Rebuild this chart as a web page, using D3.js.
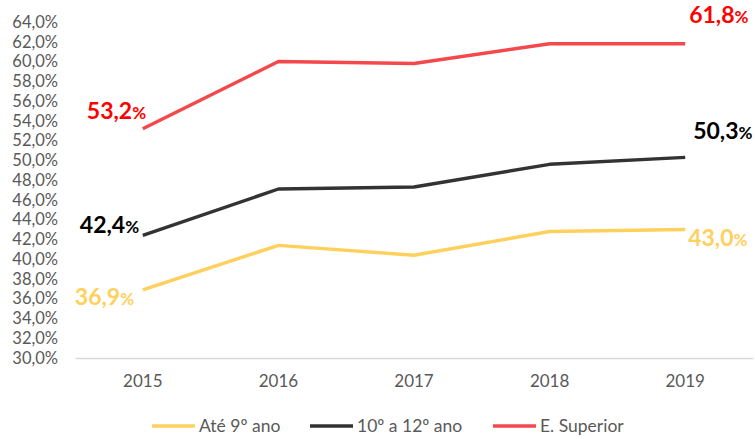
<!DOCTYPE html>
<html>
<head>
<meta charset="utf-8">
<script src="https://cdn.jsdelivr.net/npm/d3@7"></script>
<style>
  body { margin: 0; background: #fff; }
  text { font-family: Lato, "Open Sans", sans-serif; }
</style>
</head>
<body>
<svg width="755" height="439"></svg>
<script>
// chart data
var years = ["2015", "2016", "2017", "2018", "2019"];
var ate9 = [36.9, 41.4, 40.4, 42.8, 43.0];
var ano10a12 = [42.4, 47.1, 47.3, 49.6, 50.3];
var superior = [53.2, 60.0, 59.8, 61.8, 61.8];
var seriesNames = ["Até 9º ano", "10º a 12º ano", "E. Superior"];
var yTicks = d3.range(30, 64.1, 2);

var series = [
  {id: seriesNames[0], values: ate9, line: "#ffd05c", label: "#ffd05c"},
  {id: seriesNames[1], values: ano10a12, line: "#333333", label: "#000000"},
  {id: seriesNames[2], values: superior, line: "#f5484c", label: "#ff0000"}
];

var svg = d3.select("svg"),
    margin = {top: 22, right: 2, bottom: 81, left: 75},
    width = +svg.attr("width") - margin.left - margin.right,
    height = +svg.attr("height") - margin.top - margin.bottom,
    g = svg.append("g").attr("transform", "translate(" + margin.left + "," + margin.top + ")");

var x = d3.scaleBand().domain(years).range([0, width]),
    y = d3.scaleLinear().domain([30, 64]).range([height, 0]);

var fmt = function(v) { return v.toFixed(1).replace(".", ","); };

// y axis labels
g.append("g")
  .call(d3.axisLeft(y).tickValues(yTicks).tickSize(0).tickPadding(17)
    .tickFormat(function(d) { return fmt(d) + "%"; }))
  .call(function(a) { a.select(".domain").remove(); })
  .selectAll("text")
    .style("font-size", "16.5px")
    .attr("fill", "#595959");

// x axis
g.append("g")
  .attr("transform", "translate(0," + height + ")")
  .call(d3.axisBottom(x).tickSize(0).tickPadding(17))
  .call(function(a) { a.select(".domain").attr("stroke", "#d9d9d9").attr("stroke-width", 1.3); })
  .selectAll("text")
    .style("font-size", "17px")
    .attr("fill", "#595959");

var line = d3.line()
  .x(function(d, i) { return x(years[i]) + x.bandwidth() / 2; })
  .y(function(d) { return y(d); });

g.selectAll(".ser")
  .data(series)
  .enter().append("path")
    .attr("class", "ser")
    .attr("fill", "none")
    .attr("stroke-width", 3.4)
    .attr("stroke-linejoin", "round")
    .attr("stroke", function(d) { return d.line; })
    .attr("d", function(d) { return line(d.values); });

// end labels
var labelPos = [
  {s: 0, i: 0, dx: -68, dy: 10},
  {s: 1, i: 0, dx: -63, dy: -8},
  {s: 2, i: 0, dx: -56, dy: -15},
  {s: 0, i: 4, dx: 3, dy: 11},
  {s: 1, i: 4, dx: 8, dy: -24},
  {s: 2, i: 4, dx: 4, dy: -26}
];

labelPos.forEach(function(p) {
  var s = series[p.s], v = s.values[p.i];
  var t = g.append("text")
    .attr("x", x(years[p.i]) + x.bandwidth() / 2 + p.dx)
    .attr("y", y(v) + p.dy)
    .attr("dy", "0.35em")
    .attr("fill", s.label)
    .style("font-weight", "bold");
  t.append("tspan").style("font-size", "23px").text(fmt(v));
  t.append("tspan").style("font-size", "17px").text("%");
});

// legend
var legendX = [152, 310, 493];
var lg = svg.append("g").attr("transform", "translate(0,426)");
series.forEach(function(s, i) {
  lg.append("line")
    .attr("x1", legendX[i]).attr("x2", legendX[i] + 43)
    .attr("y1", 0).attr("y2", 0)
    .attr("stroke", s.line).attr("stroke-width", 3.4);
  lg.append("text")
    .attr("x", legendX[i] + 47)
    .attr("y", 0)
    .attr("dy", "0.35em")
    .style("font-size", "17.5px")
    .attr("fill", "#595959")
    .text(s.id);
});
</script>
</body>
</html>
